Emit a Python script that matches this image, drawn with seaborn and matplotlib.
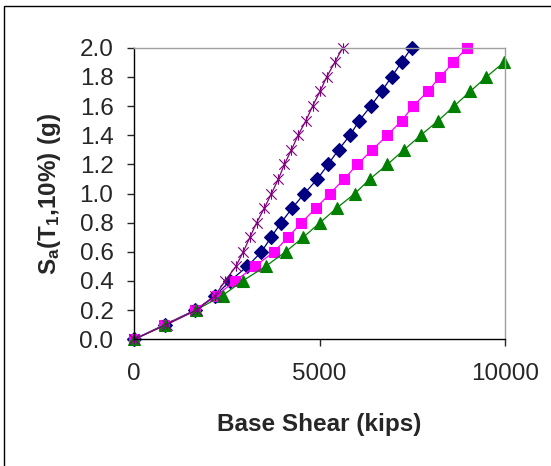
import numpy as np
import pandas as pd
import matplotlib
matplotlib.use("Agg")
import matplotlib.pyplot as plt
import seaborn as sns
from matplotlib.path import Path
from matplotlib.patches import Rectangle

# Sa levels (g)
sa_levels = [0.0, 0.1, 0.2, 0.3, 0.4, 0.5, 0.6, 0.7, 0.8, 0.9, 1.0,
             1.1, 1.2, 1.3, 1.4, 1.5, 1.6, 1.7, 1.8, 1.9, 2.0]

# base shear (kips) per series
shear_navy = [0, 830, 1640, 2190, 2580, 3050, 3430, 3690, 3960, 4260, 4590,
              4940, 5230, 5510, 5820, 6070, 6380, 6670, 6940, 7210, 7480]
shear_magenta = [0, 810, 1640, 2220, 2720, 3250, 3770, 4150, 4510, 4900, 5280,
                 5660, 6020, 6420, 6830, 7210, 7530, 7910, 8250, 8610, 8970]
shear_green = [0, 830, 1660, 2380, 2920, 3540, 4080, 4560, 5010, 5460, 5950,
               6360, 6830, 7280, 7730, 8200, 8630, 9060, 9500, 9970]
shear_purple = [0, 870, 1680, 2180, 2450, 2740, 2940, 3120, 3300, 3510, 3700,
                3890, 4050, 4240, 4420, 4630, 4810, 5010, 5190, 5410, 5620]

x_ticks = [0, 5000, 10000]
y_ticks = [0.0, 0.2, 0.4, 0.6, 0.8, 1.0, 1.2, 1.4, 1.6, 1.8, 2.0]

sns.set_style("white")
plt.rcParams["font.family"] = ["Liberation Sans", "DejaVu Sans"]
plt.rcParams["mathtext.fontset"] = "custom"
plt.rcParams["mathtext.rm"] = "Liberation Sans:bold"
plt.rcParams["mathtext.it"] = "Liberation Sans:bold"
plt.rcParams["mathtext.bf"] = "Liberation Sans:bold"

fig = plt.figure(figsize=(5.51, 4.66), dpi=100)
ax = fig.add_axes([0.2437, 0.2719, 0.9165 - 0.2437, 0.8976 - 0.2719])

# excel-like star marker (x with a vertical bar)
star = Path([(-1, -1), (1, 1), (-1, 1), (1, -1), (0, -1), (0, 1)],
            [Path.MOVETO, Path.LINETO, Path.MOVETO, Path.LINETO, Path.MOVETO, Path.LINETO])

series = [
    (shear_navy, sa_levels, "#000080", "D", 7.2),
    (shear_magenta, sa_levels, "#FF00FF", "s", 7.5),
    (shear_green, sa_levels[:len(shear_green)], "#008000", "^", 9),
    (shear_purple, sa_levels, "#800080", star, 7.5),
]
for xs, ys, col, mk, ms in series:
    df = pd.DataFrame({"shear": xs, "sa": ys})
    sns.lineplot(data=df, x="shear", y="sa", ax=ax, color=col, marker=mk,
                 markersize=ms, markeredgecolor=col, markeredgewidth=0.8,
                 linewidth=0.9, sort=False, estimator=None, clip_on=False)

ax.set_xlim(0, 10000)
ax.set_ylim(0, 2.0)
ax.set_xticks(x_ticks)
ax.set_yticks(y_ticks)
ax.set_yticklabels([f"{v:.1f}" for v in y_ticks])
ax.tick_params(axis="y", direction="out", length=5, width=1, pad=10, labelsize=17.5, left=True)
ax.tick_params(axis="x", direction="out", length=5, width=1, pad=12, labelsize=17.5, bottom=True)

for s in ["top", "right"]:
    ax.spines[s].set_color("#A0A0A0")
    ax.spines[s].set_linewidth(1)
for s in ["left", "bottom"]:
    ax.spines[s].set_color("black")
    ax.spines[s].set_linewidth(1)

ax.set_xlabel("Base Shear (kips)", fontsize=17.5, fontweight="bold", labelpad=20)
ax.set_ylabel(r"$\mathrm{S_a(T_1{,}10\%)\ (g)}$", fontsize=17.5, labelpad=12)

# outer chart border
fig.patches.append(Rectangle((4 / 551, -0.1), 1.2, 1 - 6 / 466 + 0.1,
                             transform=fig.transFigure, fill=False,
                             edgecolor="black", linewidth=1))

fig.savefig("out.png", dpi=100)
